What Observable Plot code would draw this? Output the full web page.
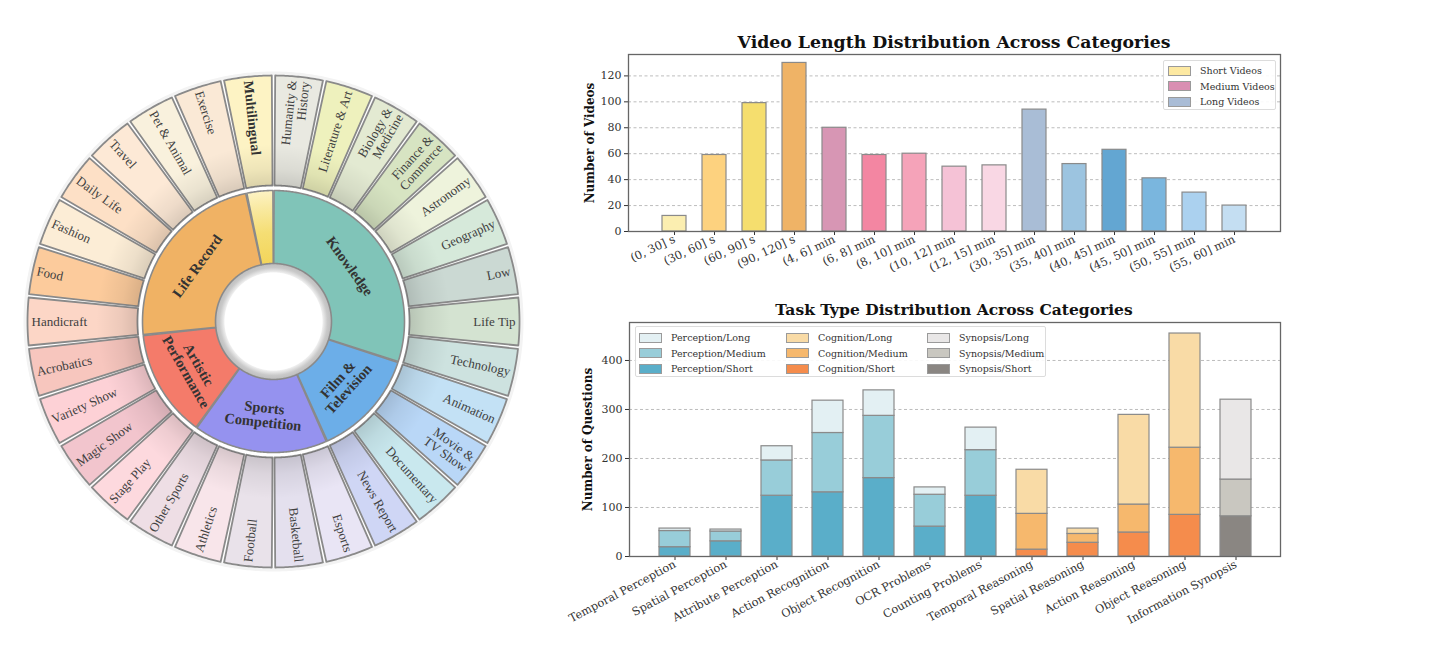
<!DOCTYPE html>
<html><head><meta charset="utf-8">
<script src="https://cdn.jsdelivr.net/npm/d3@7"></script>
<script src="https://cdn.jsdelivr.net/npm/@observablehq/plot@0.6"></script>
<style>
body{margin:0;background:#fff;}
#root{position:relative;width:1440px;height:649px;overflow:hidden;font-family:"DejaVu Serif",serif;}
.title{position:absolute;font-weight:bold;font-size:15.5px;color:#111;white-space:nowrap;transform:translateX(-50%);}
.legend{position:absolute;border:1px solid #dcdcdc;background:rgba(255,255,255,0.9);border-radius:2px;font-size:9.5px;color:#333;box-sizing:border-box;}
.item{display:flex;align-items:center;height:15.5px;white-space:nowrap;}
.sw{width:21px;height:8px;border:1px solid #9a9a9a;margin-right:9px;flex:none;}
</style></head>
<body><div id="root"></div>
<script>
// ---------- Sunburst data ----------
const mainCats = ["Knowledge","Film & Television","Sports Competition","Artistic Performance","Life Record","Multilingual"];
const mainLabels = ["Knowledge","Film &\nTelevision","Sports\nCompetition","Artistic\nPerformance","Life Record",""];
const mainColors = ["#80c4b8","#6caee8","#9592ef","#f47b6a","#f0b264","#f6e07c"];
const subCats = ["Humanity &\nHistory","Literature & Art","Biology &\nMedicine","Finance &\nCommerce","Astronomy","Geography","Low","Life Tip","Technology",
  "Animation","Movie &\nTV Show","Documentary","News Report",
  "Esports","Basketball","Football","Athletics","Other Sports",
  "Stage Play","Magic Show","Variety Show","Acrobatics",
  "Handicraft","Food","Fashion","Daily Life","Travel","Pet & Animal","Exercise",
  "Multilingual"];
const subParent = ["Knowledge","Knowledge","Knowledge","Knowledge","Knowledge","Knowledge","Knowledge","Knowledge","Knowledge",
  "Film & Television","Film & Television","Film & Television","Film & Television",
  "Sports Competition","Sports Competition","Sports Competition","Sports Competition","Sports Competition",
  "Artistic Performance","Artistic Performance","Artistic Performance","Artistic Performance",
  "Life Record","Life Record","Life Record","Life Record","Life Record","Life Record","Life Record",
  "Multilingual"];
const subCounts = [30,30,30,30,30,30,30,30,30, 30,30,30,30, 30,30,30,30,30, 30,30,30,30, 30,30,30,30,30,30,30, 30];
const subColors = ["#e9e9e1","#eef1bd","#e3ead2","#d7e4c2","#eef3dc","#d6e9da","#cbd9d3","#d4e3d1","#cde2df",
  "#c3e1f5","#b9d7f7","#c9e8ee","#cfd6f5",
  "#e9e5f5","#e4e0ee","#e9e2ea","#f8e5ea","#eedee5",
  "#fdd9de","#f2c5cd","#fdd1d6","#f7c6be",
  "#fcd6c6","#fccb9c","#fcedd6","#fde0c6","#fde9d6","#f9f1dd","#fae9d6",
  "#fdf3c4"];

// ---------- Video length data ----------
const lengthCats = ["(0, 30] s","(30, 60] s","(60, 90] s","(90, 120] s","(4, 6] min","(6, 8] min","(8, 10] min","(10, 12] min","(12, 15] min","(30, 35] min","(35, 40] min","(40, 45] min","(45, 50] min","(50, 55] min","(55, 60] min"];
const lengthCounts = [12,59,99,130,80,59,60,50,51,94,52,63,41,30,20];
const lengthColors = ["#fbeeb0","#fdd27f","#f5de6e","#efb366","#d796b4","#f386a2","#f5a3b9","#f5c2d6","#f9d7e4","#a9bdd6","#9cc4e0","#63a6d2","#7ab6de","#abd1ef","#c4def2"];
const lengthLegend = ["Short Videos","Medium Videos","Long Videos"];
const lengthLegendColors = ["#fde9a2","#d98fb2","#a9bcd6"];
const lengthTicks = [0,20,40,60,80,100,120];

// ---------- Task type data ----------
const taskCats = ["Temporal Perception","Spatial Perception","Attribute Perception","Action Recognition","Object Recognition","OCR Problems","Counting Problems","Temporal Reasoning","Spatial Reasoning","Action Reasoning","Object Reasoning","Information Synopsis"];
const taskGroup = ["Perception","Perception","Perception","Perception","Perception","Perception","Perception","Cognition","Cognition","Cognition","Cognition","Synopsis"];
const shortQ  = [19,31,124,131,160,61,124,14,28,49,85,82];
const mediumQ = [33,20,72,121,127,65,93,73,18,57,137,75];
const longQ   = [5,4,29,66,52,15,46,90,11,183,233,163];
const groups = ["Perception","Cognition","Synopsis"];
const levels = ["Long","Medium","Short"];
const perceptionColors = ["#e3f0f3","#98cdd9","#5aaec9"]; // Long, Medium, Short
const cognitionColors  = ["#f9dba6","#f6b86d","#f58c4c"];
const synopsisColors   = ["#e9e7e7","#c9c7c0","#8a8682"];
const taskTicks = [0,100,200,300,400];

const root = document.getElementById("root");
function place(el, left, topPx){ el.style.position="absolute"; el.style.left=left+"px"; el.style.top=topPx+"px"; root.appendChild(el); return el; }

// ================= SUNBURST =================
const rad = Math.PI/180;
const total = d3.sum(subCounts);
function sector(a0, a1, r0, r1, id, color){
  const pts = [];
  const n = Math.max(3, Math.ceil((a1 - a0) / 0.5));
  for (let k = 0; k <= n; k++){ const a = (a0 + (a1 - a0) * k / n) * rad; pts.push({id, color, x: r1 * Math.sin(a), y: r1 * Math.cos(a)}); }
  for (let k = n; k >= 0; k--){ const a = (a0 + (a1 - a0) * k / n) * rad; pts.push({id, color, x: r0 * Math.sin(a), y: r0 * Math.cos(a)}); }
  return pts;
}
const outerPts = [], innerPts = [], outerLabels = [], innerLabels = [];
let acc = 0;
subCats.forEach((c, i) => {
  const a0 = acc / total * 360, a1 = (acc + subCounts[i]) / total * 360; acc += subCounts[i];
  outerPts.push(...sector(a0 + 0.4, a1 - 0.4, 136, 246, "o" + i, subColors[i]));
  const m = (a0 + a1) / 2, r = 242;
  const right = m < 180;
  outerLabels.push({text: c, x: r * Math.sin(m * rad), y: r * Math.cos(m * rad), rotate: right ? m - 90 : m - 270, right, bold: c === "Multilingual"});
});
mainCats.forEach((c, j) => {
  const idx = subParent.map((p, i) => p === c ? i : -1).filter(i => i >= 0);
  const before = d3.sum(subCounts.slice(0, idx[0]));
  const a0 = before / total * 360, a1 = (before + d3.sum(idx, i => subCounts[i])) / total * 360;
  innerPts.push(...sector(a0 + 0.25, a1 - 0.25, 58, 131, "i" + j, c === "Multilingual" ? "url(#multiGrad)" : mainColors[j]));
  const m = (a0 + a1) / 2, r = 94;
  let rot = (m > 90 && m < 270) ? m - 180 : (m >= 270 ? m - 360 : m);
  innerLabels.push({text: mainLabels[j], x: r * Math.sin(m * rad), y: r * Math.cos(m * rad), rotate: rot});
});
const rimPts = sector(0, 359.99, 49, 58, "rim", "url(#rimGrad)");
const haloPts = sector(0, 359.99, 246, 250, "halo", "#f3f3f3");

const sun = Plot.plot({
  width: 546, height: 649, margin: 0,
  x: {domain: [-273, 273], axis: null},
  y: {domain: [-328, 321], axis: null},
  color: {type: "identity"},
  style: {background: "transparent", fontFamily: "Liberation Serif"},
  marks: [
    Plot.line(haloPts, {x: "x", y: "y", z: "id", fill: d => d.color, stroke: "none", curve: "linear-closed"}),
    Plot.line(rimPts, {x: "x", y: "y", z: "id", fill: d => d.color, stroke: "none", curve: "linear-closed"}),
    Plot.line(innerPts, {x: "x", y: "y", z: "id", fill: d => d.color, stroke: "#8a8a8a", strokeWidth: 1.6, strokeLinejoin: "round", curve: "linear-closed"}),
    Plot.line(outerPts, {x: "x", y: "y", z: "id", fill: d => d.color, stroke: "#8a8a8a", strokeWidth: 1.8, strokeLinejoin: "round", curve: "linear-closed"}),
    Plot.line(outerPts, {x: "x", y: "y", z: "id", fill: "url(#shadeGrad)", stroke: "none", curve: "linear-closed"}),
    Plot.text(outerLabels.filter(d => d.right), {x: "x", y: "y", text: "text", rotate: "rotate", textAnchor: "end", fontSize: 13, fill: "#404040", lineHeight: 1.0}),
    Plot.text(outerLabels.filter(d => !d.right && !d.bold), {x: "x", y: "y", text: "text", rotate: "rotate", textAnchor: "start", fontSize: 13, fill: "#404040", lineHeight: 1.0}),
    Plot.text(outerLabels.filter(d => d.bold), {x: "x", y: "y", text: "text", rotate: "rotate", textAnchor: "start", fontSize: 14, fontWeight: "bold", fill: "#333"}),
    Plot.text(innerLabels, {x: "x", y: "y", text: "text", rotate: "rotate", textAnchor: "middle", fontSize: 14.5, fontWeight: "bold", fill: "#333", lineHeight: 1.0})
  ]
});
// gradient definitions (centred on the ring centre in SVG pixels)
{
  const defs = d3.select(sun).insert("defs", ":first-child");
  const cx = 273, cy = 321;
  const g1 = defs.append("radialGradient").attr("id", "shadeGrad").attr("gradientUnits", "userSpaceOnUse").attr("cx", cx).attr("cy", cy).attr("r", 246);
  [[0.55, "#000", 0.14], [0.62, "#000", 0.06], [0.72, "#000", 0.0], [1, "#000", 0]].forEach(([o, c, a]) => g1.append("stop").attr("offset", o).attr("stop-color", c).attr("stop-opacity", a));
  const g2 = defs.append("radialGradient").attr("id", "multiGrad").attr("gradientUnits", "userSpaceOnUse").attr("cx", cx).attr("cy", cy).attr("r", 131);
  [[0.44, "#f3d55a"], [0.68, "#f5de74"], [0.88, "#f9eaa4"], [1, "#fdf3c4"]].forEach(([o, c]) => g2.append("stop").attr("offset", o).attr("stop-color", c));
  const g3 = defs.append("radialGradient").attr("id", "rimGrad").attr("gradientUnits", "userSpaceOnUse").attr("cx", cx).attr("cy", cy).attr("r", 58);
  [[0.84, "#f4f4f4"], [0.93, "#c9c9c9"], [1, "#bdbdbd"]].forEach(([o, c]) => g3.append("stop").attr("offset", o).attr("stop-color", c));
}
place(sun, 0, 0);

// ================= VIDEO LENGTH BAR CHART =================
const lenData = lengthCats.map((c, i) => ({cat: c, value: lengthCounts[i], color: lengthColors[i]}));
const topChart = Plot.plot({
  width: 760, height: 250, marginLeft: 88, marginRight: 20, marginTop: 9, marginBottom: 64,
  x: {type: "band", domain: lengthCats, paddingInner: 0.4, paddingOuter: 0.73},
  y: {domain: [0, 136.5]},
  color: {type: "identity"},
  style: {fontFamily: "DejaVu Serif", fontSize: "11px", color: "#333", background: "transparent"},
  marks: [
    Plot.gridY({ticks: lengthTicks.slice(1), stroke: "#bdbdbd", strokeOpacity: 1, strokeDasharray: "3,2.5"}),
    Plot.barY(lenData, {x: "cat", y: "value", fill: d => d.color, stroke: "#8a8a8a", strokeWidth: 1.2}),
    Plot.axisY({ticks: lengthTicks, tickSize: 4, tickPadding: 3, label: null, fontSize: 11}),
    Plot.axisX({tickRotate: -25, tickSize: 4, tickPadding: 3, label: null, fontSize: 11.5}),
    Plot.frame({stroke: "#666", strokeWidth: 1.3}),
    Plot.text(["Number of Videos"], {text: d => d, frameAnchor: "left", textAnchor: "middle", rotate: -90, dx: -38, fontWeight: "bold", fontSize: 12, fill: "#111"})
  ]
});
place(topChart, 540, 45);

const t1 = document.createElement("div"); t1.className = "title"; t1.style.fontSize = "17.3px"; t1.textContent = "Video Length Distribution Across Categories"; place(t1, 954, 32);

const lg1 = document.createElement("div"); lg1.className = "legend";
lg1.style.width = "113px"; lg1.style.height = "50px"; lg1.style.padding = "2px 0 0 4px";
lengthLegend.forEach((n, i) => {
  const it = document.createElement("div"); it.className = "item"; it.style.height = "15.5px";
  it.innerHTML = `<span class="sw" style="background:${lengthLegendColors[i]}"></span><span>${n}</span>`;
  lg1.appendChild(it);
});
place(lg1, 1163, 60);

// ================= TASK TYPE STACKED BAR CHART =================
const colorFor = {Perception: perceptionColors, Cognition: cognitionColors, Synopsis: synopsisColors};
const taskData = [];
taskCats.forEach((c, i) => {
  const cols = colorFor[taskGroup[i]];
  taskData.push({cat: c, level: "Short", value: shortQ[i], color: cols[2]});
  taskData.push({cat: c, level: "Medium", value: mediumQ[i], color: cols[1]});
  taskData.push({cat: c, level: "Long", value: longQ[i], color: cols[0]});
});
const botChart = Plot.plot({
  width: 760, height: 330, marginLeft: 89, marginRight: 20, marginTop: 7, marginBottom: 89,
  x: {type: "band", domain: taskCats, paddingInner: 0.4, paddingOuter: 0.58},
  y: {domain: [0, 477.5]},
  color: {type: "identity"},
  style: {fontFamily: "DejaVu Serif", fontSize: "11px", color: "#333", background: "transparent"},
  marks: [
    Plot.gridY({ticks: taskTicks.slice(1), stroke: "#bdbdbd", strokeOpacity: 1, strokeDasharray: "3,2.5"}),
    Plot.barY(taskData, {x: "cat", y: "value", fill: d => d.color, stroke: "#8a8a8a", strokeWidth: 1.2, order: null}),
    Plot.axisY({ticks: taskTicks, tickSize: 4, tickPadding: 3, label: null, fontSize: 11}),
    Plot.axisX({tickRotate: -28, tickSize: 4, tickPadding: 3, label: null, fontSize: 11.3}),
    Plot.frame({stroke: "#666", strokeWidth: 1.3}),
    Plot.text(["Number of Questions"], {text: d => d, frameAnchor: "left", textAnchor: "middle", rotate: -90, dx: -41, fontWeight: "bold", fontSize: 12, fill: "#111"})
  ]
});
place(botChart, 540, 315);

const t2 = document.createElement("div"); t2.className = "title"; t2.textContent = "Task Type Distribution Across Categories"; place(t2, 954, 300);

const lg2 = document.createElement("div"); lg2.className = "legend";
lg2.style.width = "411px"; lg2.style.height = "51px"; lg2.style.padding = "3px 0 0 3px";
lg2.style.display = "grid"; lg2.style.gridTemplateColumns = "147px 141px 118px"; lg2.style.gridAutoFlow = "column"; lg2.style.gridTemplateRows = "15.5px 15.5px 15.5px";
groups.forEach(g => levels.forEach((l, k) => {
  const it = document.createElement("div"); it.className = "item";
  it.innerHTML = `<span class="sw" style="background:${colorFor[g][k]}"></span><span>${g}/${l}</span>`;
  lg2.appendChild(it);
}));
place(lg2, 635, 326);
</script>
</body></html>
